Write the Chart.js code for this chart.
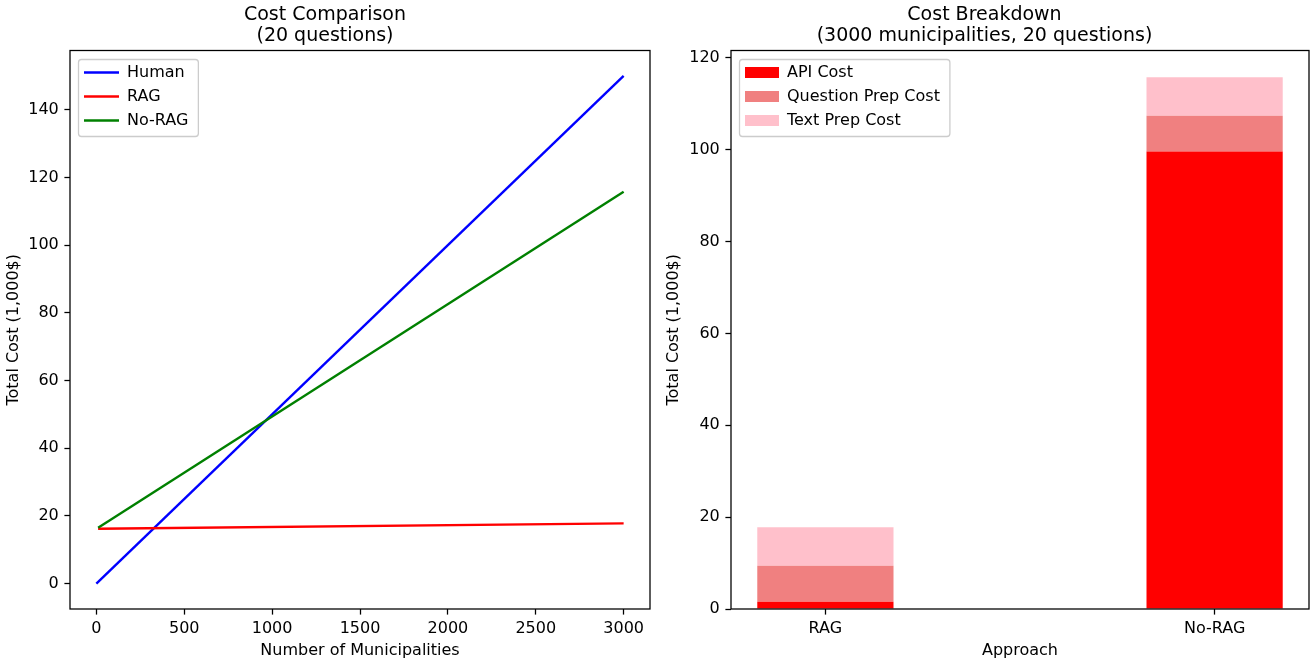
<!DOCTYPE html>
<html><head><meta charset="utf-8">
<script src="https://cdn.jsdelivr.net/npm/chart.js@4.4.1/dist/chart.umd.min.js"></script>
<style>
html,body{margin:0;padding:0;background:#fff;}
#wrap{position:relative;width:1311px;height:662px;overflow:hidden;background:#fff;}
canvas{position:absolute;top:0;}
#c1{left:0;} #c2{left:660px;}
</style></head><body>
<div id="wrap"><canvas id="c1" width="660" height="662"></canvas><canvas id="c2" width="651" height="662"></canvas></div>
<script>
// ---- Left chart data ----
const humanMunicipalities = [0, 3000];
const humanCost = [0, 150];
const ragMunicipalities = [10, 3000];
const ragCost = [16.2, 17.8];
const noRagMunicipalities = [10, 3000];
const noRagCost = [16.5, 115.8];
const lineXTicks = [0, 500, 1000, 1500, 2000, 2500, 3000];
const lineYTicks = [0, 20, 40, 60, 80, 100, 120, 140];

// ---- Right chart data ----
const approaches = ['RAG', 'No-RAG'];
const apiCost = [1.6, 99.6];
const questionPrepCost = [7.8, 7.8];
const textPrepCost = [8.4, 8.4];
const barYTicks = [0, 20, 40, 60, 80, 100, 120];

Chart.defaults.font.family = '"DejaVu Sans", sans-serif';
Chart.defaults.font.size = 16;
Chart.defaults.color = '#000';

const FONT = 16;
const tickGrid = {display: true, drawOnChartArea: false, drawTicks: true, tickLength: 5.6, tickWidth: 1.28, tickColor: '#000'};

const framePlugin = {
  id: 'framePlugin',
  afterLayout(chart) {
    const lg = chart.legend, ca = chart.chartArea;
    if (!lg) return;
    lg.left = ca.left + 6; lg.top = ca.top + 6;
    lg.right = lg.left + lg.width; lg.bottom = lg.top + lg.height;
  },
  beforeDraw(chart) {
    // legend frame (drawn under the legend entries)
    const ctx = chart.ctx, lg = chart.legend;
    ctx.save();
    const o = lg.options.labels;
    ctx.font = FONT + 'px "DejaVu Sans"';
    const maxW = Math.max(...lg.legendItems.map(it => ctx.measureText(it.text).width));
    const pad = o.padding, n = lg.legendItems.length;
    const x0 = lg.left + pad - 5.5, y0 = lg.top + pad - 5;
    const x1 = lg.left + pad + o.boxWidth + FONT / 2 + maxW + 10;
    const y1 = lg.top + pad + n * FONT + (n - 1) * pad + 8;
    const r = 3;
    ctx.beginPath();
    ctx.moveTo(x0 + r, y0); ctx.lineTo(x1 - r, y0); ctx.arcTo(x1, y0, x1, y0 + r, r);
    ctx.lineTo(x1, y1 - r); ctx.arcTo(x1, y1, x1 - r, y1, r);
    ctx.lineTo(x0 + r, y1); ctx.arcTo(x0, y1, x0, y1 - r, r);
    ctx.lineTo(x0, y0 + r); ctx.arcTo(x0, y0, x0 + r, y0, r);
    ctx.closePath();
    ctx.fillStyle = '#ffffff'; ctx.fill();
    ctx.strokeStyle = '#cccccc'; ctx.lineWidth = 1.28; ctx.stroke();
    ctx.restore();
  },
  afterDatasetsDraw(chart) {
    const ctx = chart.ctx, ca = chart.chartArea;
    ctx.save();
    ctx.strokeStyle = '#000'; ctx.lineWidth = 1.28;
    ctx.strokeRect(ca.left, ca.top, ca.right - ca.left, ca.bottom - ca.top);
    ctx.restore();
  }
};

const pts = (xs, ys) => xs.map((x, i) => ({x: x, y: ys[i]}));
const titleFont = {size: 19, weight: 'normal', lineHeight: 1.1};
const titlePad = {top: 5, bottom: 3.7};

new Chart(document.getElementById('c1'), {
  type: 'line',
  data: {
    datasets: [
      {label: 'Human', data: pts(humanMunicipalities, humanCost), borderColor: '#0000ff', backgroundColor: '#0000ff', borderWidth: 2.4, pointRadius: 0, tension: 0, order: 3},
      {label: 'RAG', data: pts(ragMunicipalities, ragCost), borderColor: '#ff0000', backgroundColor: '#ff0000', borderWidth: 2.4, pointRadius: 0, tension: 0, order: 2},
      {label: 'No-RAG', data: pts(noRagMunicipalities, noRagCost), borderColor: '#008000', backgroundColor: '#008000', borderWidth: 2.4, pointRadius: 0, tension: 0, order: 1}
    ]
  },
  options: {
    responsive: false, animation: false, devicePixelRatio: 1,
    layout: {padding: {left: 0, right: 10, top: 0, bottom: 0}},
    plugins: {
      title: {display: true, text: ['Cost Comparison', '(20 questions)'], color: '#000', font: titleFont, padding: titlePad},
      legend: {position: 'chartArea', align: 'start',
        labels: {padding: 8, boxWidth: 35, boxHeight: 2.4, font: {size: FONT}, color: '#000',
          generateLabels: (chart) => chart.data.datasets.map((d, i) => ({text: d.label, fillStyle: d.borderColor, strokeStyle: d.borderColor, fontColor: '#000', lineWidth: 0, hidden: false, datasetIndex: i}))}},
      tooltip: {enabled: false}
    },
    scales: {
      x: {type: 'linear', min: -150, max: 3150,
        afterBuildTicks: s => { s.ticks = lineXTicks.map(v => ({value: v})); },
        afterFit: s => { s.height = 53; },
        ticks: {padding: 4.5, font: {size: FONT}, color: '#000', maxRotation: 0, callback: v => String(v)},
        grid: tickGrid, border: {display: false},
        title: {display: true, text: 'Number of Municipalities', font: {size: FONT}, color: '#000', padding: {top: 0, bottom: 2}}},
      y: {type: 'linear', min: -7.5, max: 157.5,
        afterBuildTicks: s => { s.ticks = lineYTicks.map(v => ({value: v})); },
        afterFit: s => { s.width = 70; },
        ticks: {padding: 5.6, font: {size: FONT}, color: '#000', callback: v => String(v)},
        grid: tickGrid, border: {display: false},
        title: {display: true, text: 'Total Cost (1,000$)', font: {size: FONT}, color: '#000', padding: {top: 4, bottom: 0}}}
    }
  },
  plugins: [framePlugin]
});

const barPts = (vals) => approaches.map((a, i) => ({x: i, y: vals[i]}));

new Chart(document.getElementById('c2'), {
  type: 'bar',
  data: {
    datasets: [
      {label: 'API Cost', data: barPts(apiCost), backgroundColor: '#ff0000', borderWidth: 0},
      {label: 'Question Prep Cost', data: barPts(questionPrepCost), backgroundColor: '#f08080', borderWidth: 0},
      {label: 'Text Prep Cost', data: barPts(textPrepCost), backgroundColor: '#ffc0cb', borderWidth: 0}
    ]
  },
  options: {
    responsive: false, animation: false, devicePixelRatio: 1,
    barPercentage: 0.35, categoryPercentage: 1.0,
    layout: {padding: {left: 0, right: 2, top: 0, bottom: 0}},
    plugins: {
      title: {display: true, text: ['Cost Breakdown', '(3000 municipalities, 20 questions)'], color: '#000', font: titleFont, padding: titlePad},
      legend: {position: 'chartArea', align: 'start',
        labels: {padding: 8, boxWidth: 34, boxHeight: 11, font: {size: FONT}, color: '#000',
          generateLabels: (chart) => chart.data.datasets.map((d, i) => ({text: d.label, fillStyle: d.backgroundColor, strokeStyle: d.backgroundColor, fontColor: '#000', lineWidth: 0, hidden: false, datasetIndex: i}))}},
      tooltip: {enabled: false}
    },
    scales: {
      x: {type: 'linear', min: -0.2425, max: 1.2425, stacked: true, offset: false,
        afterBuildTicks: s => { s.ticks = approaches.map((a, i) => ({value: i})); },
        afterFit: s => { s.height = 53; },
        ticks: {padding: 4.5, font: {size: FONT}, color: '#000', maxRotation: 0, callback: (v) => approaches[Math.round(v)]},
        grid: Object.assign({offset: false}, tickGrid), border: {display: false},
        title: {display: true, text: 'Approach', font: {size: FONT}, color: '#000', padding: {top: 0, bottom: 2}}},
      y: {type: 'linear', min: 0, max: 121.6, stacked: true,
        afterBuildTicks: s => { s.ticks = barYTicks.map(v => ({value: v})); },
        afterFit: s => { s.width = 71; },
        ticks: {padding: 5.6, font: {size: FONT}, color: '#000', callback: v => String(v)},
        grid: tickGrid, border: {display: false},
        title: {display: true, text: 'Total Cost (1,000$)', font: {size: FONT}, color: '#000', padding: {top: 4, bottom: 0}}}
    }
  },
  plugins: [framePlugin]
});
</script>
</body></html>
